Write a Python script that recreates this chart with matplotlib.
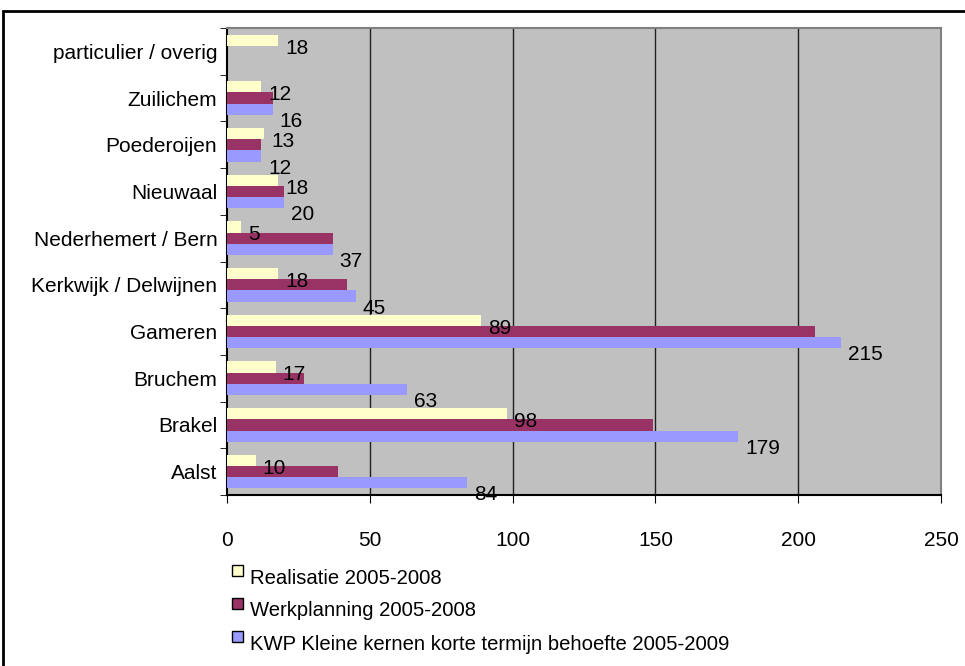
import matplotlib.pyplot as plt
from matplotlib.patches import Rectangle
import numpy as np

plt.rcParams['font.family'] = ['Liberation Sans', 'DejaVu Sans']

# data (bottom to top)
kernen = ['Aalst', 'Brakel', 'Bruchem', 'Gameren', 'Kerkwijk / Delwijnen',
          'Nederhemert / Bern', 'Nieuwaal', 'Poederoijen', 'Zuilichem',
          'particulier / overig']
realisatie = [10, 98, 17, 89, 18, 5, 18, 13, 12, 18]
werkplanning = [39, 149, 27, 206, 42, 37, 20, 12, 16, 0]
kwp = [84, 179, 63, 215, 45, 37, 20, 12, 16, 0]
reeksen = ['Realisatie 2005-2008', 'Werkplanning 2005-2008',
           'KWP Kleine kernen korte termijn behoefte 2005-2009']
kleuren = ['#FFFFCC', '#993366', '#9999FF']
xticks = [0, 50, 100, 150, 200, 250]

fs = 15

fig = plt.figure(figsize=(9.65, 6.66), dpi=100)
ax = fig.add_axes([227/965, 1-495/666, 714/965, 467/666])
ax.set_facecolor('#C0C0C0')

y = np.arange(len(kernen))
h = 0.24
ax.barh(y + h, realisatie, height=h, color=kleuren[0], zorder=3)
ax.barh(y, werkplanning, height=h, color=kleuren[1], zorder=3)
ax.barh(y - h, kwp, height=h, color=kleuren[2], zorder=3)

# value labels (only realisatie and kwp, Excel-style offset)
for i in y:
    if realisatie[i]:
        ax.annotate(str(realisatie[i]), (realisatie[i], i + 0.07), xytext=(7, 0),
                    textcoords='offset pixels', ha='left', va='center', fontsize=fs, zorder=5)
    if kwp[i]:
        ax.annotate(str(kwp[i]), (kwp[i], i - 0.5), xytext=(7, 0),
                    textcoords='offset pixels', ha='left', va='center', fontsize=fs, zorder=5)

ax.set_xlim(0, 250)
ax.set_ylim(-0.5, len(kernen) - 0.5)
ax.set_xticks(xticks)
ax.tick_params(axis='x', direction='out', length=6, pad=20, labelsize=fs)
ax.set_yticks(y)
ax.set_yticklabels(kernen)
ax.set_yticks(np.arange(-0.5, len(kernen)), minor=True)
ax.tick_params(axis='y', which='major', length=0, pad=7, labelsize=fs)
ax.tick_params(axis='y', which='minor', direction='out', length=5)
for v in xticks[1:-1]:
    ax.axvline(v, color='#202020', lw=1, zorder=2)
ax.spines['left'].set_color('black')
ax.spines['bottom'].set_color('black')
ax.spines['top'].set_color('#808080')
ax.spines['right'].set_color('#808080')
for s in ax.spines.values():
    s.set_linewidth(1.5)

# legend
for k, (naam, kleur) in enumerate(zip(reeksen, kleuren)):
    ty = 578 + 33 * k
    fig.add_artist(Rectangle((232/965, 1-(ty-2)/666), 11/965, 11/666,
                             facecolor=kleur, edgecolor='black', lw=1,
                             transform=fig.transFigure))
    fig.text(250/965, 1-ty/666, naam, fontsize=14.6, va='center', ha='left')

# outer chart border
fig.add_artist(Rectangle((3/965, -0.05), 1.1, 1.05 - 11/666, fill=False,
                         edgecolor='black', lw=2, transform=fig.transFigure))

fig.savefig('out.png', dpi=100)
